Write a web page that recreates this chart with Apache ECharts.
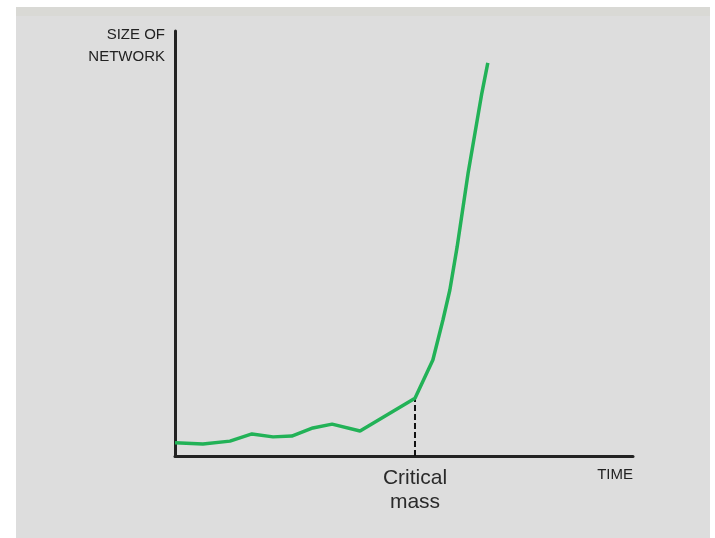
<!DOCTYPE html>
<html>
<head>
<meta charset="utf-8">
<script src="https://cdn.jsdelivr.net/npm/echarts@6/dist/echarts.min.js"></script>
<style>
html,body{margin:0;padding:0;background:#fff;}
#chart{width:715px;height:538px;}
</style>
</head>
<body>
<div id="chart"></div>
<script>
// Time (x) and network size (y), in arbitrary units
const timeValues = [0, 6.1, 12.0, 16.8, 21.4, 25.5, 30.1, 34.3, 40.4, 52.4, 56.3, 58.5, 60.0, 61.6, 62.7, 64.0, 65.5, 67.0, 68.3];
const sizeValues = [3.1, 2.8, 3.5, 5.2, 4.5, 4.7, 6.6, 7.5, 5.9, 13.6, 22.6, 32.0, 39.0, 49.2, 57.2, 66.6, 76.0, 85.4, 92.5];
const criticalTime = 52.4;
const criticalSize = 13.6;
const xAxisTitle = 'TIME';
const yAxisTitle = 'SIZE OF\nNETWORK';
const criticalLabel = 'Critical\nmass';

const chart = echarts.init(document.getElementById('chart'), null, {renderer: 'canvas'});
const lineData = timeValues.map((t, i) => [t, sizeValues[i]]);

chart.setOption({
  animation: false,
  backgroundColor: '#ffffff',
  graphic: [
    {type: 'rect', z: -10, silent: true, shape: {x: 16, y: 7, width: 694, height: 531}, style: {fill: '#dddddd'}},
    {type: 'rect', z: -9, silent: true, shape: {x: 16, y: 7, width: 694, height: 9}, style: {fill: '#d9d9d5'}}
  ],
  grid: {left: 175, right: 82, top: 31, bottom: 82, containLabel: false},
  xAxis: {
    type: 'value', min: 0, max: 100,
    axisLine: {show: true, lineStyle: {color: '#222', width: 3}},
    axisTick: {show: false},
    splitLine: {show: false},
    axisLabel: {
      show: true, customValues: [criticalTime],
      formatter: () => criticalLabel,
      color: '#2a2a2a', fontFamily: 'Liberation Sans, Arial, sans-serif', fontSize: 21, lineHeight: 24, margin: 10
    },
    name: xAxisTitle, nameLocation: 'end', nameGap: 0,
    nameTextStyle: {color: '#222', fontFamily: 'Liberation Sans, Arial, sans-serif', fontSize: 15, align: 'right', verticalAlign: 'top', padding: [11, 0, 0, 0]}
  },
  yAxis: {
    type: 'value', min: 0, max: 100,
    axisLine: {show: true, lineStyle: {color: '#222', width: 3}},
    axisTick: {show: false},
    splitLine: {show: false},
    axisLabel: {show: false},
    name: yAxisTitle, nameLocation: 'end', nameGap: 7,
    nameTextStyle: {color: '#222', fontFamily: 'Liberation Sans, Arial, sans-serif', fontSize: 15, lineHeight: 22, align: 'right', verticalAlign: 'top', padding: [0, 10, 0, 0]}
  },
  series: [
    {
      type: 'line', data: lineData, showSymbol: false, smooth: false,
      lineStyle: {color: '#22b257', width: 3.5}, z: 3
    },
    {
      type: 'line', data: [[criticalTime, 0], [criticalTime, criticalSize]], showSymbol: false,
      lineStyle: {color: '#111', width: 2, type: [6, 3]}, z: 2
    }
  ]
});
</script>
</body>
</html>
